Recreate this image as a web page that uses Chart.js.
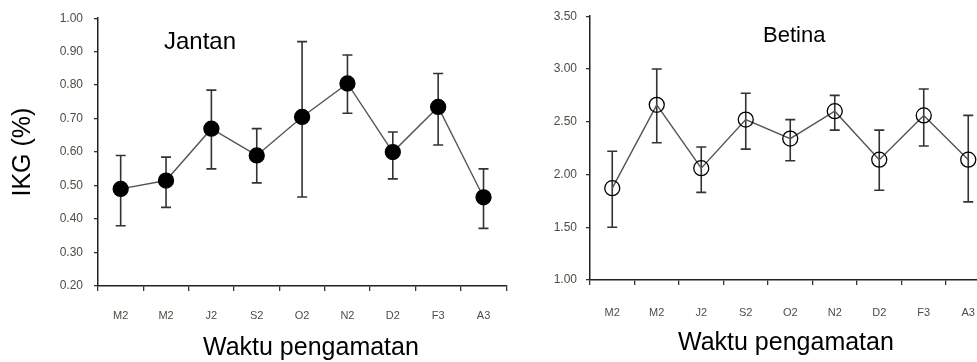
<!DOCTYPE html>
<html>
<head>
<meta charset="utf-8">
<script src="https://cdn.jsdelivr.net/npm/chart.js@4"></script>
<style>
  html, body { margin: 0; padding: 0; background: #fff; overflow: hidden; }
  #wrap { position: relative; width: 977px; height: 362px; overflow: hidden; }
  #left { position: absolute; left: 0; top: 0; }
  #right { position: absolute; left: 500px; top: 0; }
</style>
</head>
<body>
<div id="wrap">
  <div id="left" style="width:515px;height:362px"><canvas id="cLeft"></canvas></div>
  <div id="right" style="width:500px;height:362px"><canvas id="cRight"></canvas></div>
</div>
<script>
// observation months
let labels = ["M2", "M2", "J2", "S2", "O2", "N2", "D2", "F3", "A3"]

// Jantan (male) IKG values and error bar ends
let jantan = [0.49, 0.515, 0.67, 0.59, 0.705, 0.805, 0.60, 0.735, 0.465]
let jantanHigh = [0.59, 0.585, 0.785, 0.67, 0.93, 0.89, 0.66, 0.835, 0.55]
let jantanLow = [0.38, 0.435, 0.55, 0.508, 0.466, 0.716, 0.52, 0.621, 0.372]

// Betina (female) IKG values and error bar ends
let betina = [1.87, 2.66, 2.06, 2.52, 2.34, 2.60, 2.14, 2.56, 2.14]
let betinaHigh = [2.22, 3.00, 2.26, 2.77, 2.52, 2.75, 2.42, 2.81, 2.56]
let betinaLow = [1.50, 2.30, 1.83, 2.24, 2.13, 2.42, 1.85, 2.27, 1.74]

const FONT = "'Liberation Sans', Arial, sans-serif"
const tickColor = "#4d4d44"

// draws vertical error bars with caps using the chart's own scales
const errorBars = {
  id: "errorBars",
  beforeDatasetsDraw(chart, args, opts) {
    let ctx = chart.ctx
    let x = chart.scales.x
    let y = chart.scales.y
    ctx.save()
    ctx.strokeStyle = "#333"
    ctx.lineWidth = 1.6
    opts.high.forEach((h, i) => {
      let px = x.getPixelForValue(i)
      let top = y.getPixelForValue(h)
      let bot = y.getPixelForValue(opts.low[i])
      ctx.beginPath()
      ctx.moveTo(px, top); ctx.lineTo(px, bot)
      ctx.moveTo(px - 5, top); ctx.lineTo(px + 5, top)
      ctx.moveTo(px - 5, bot); ctx.lineTo(px + 5, bot)
      ctx.stroke()
    })
    ctx.restore()
  }
}

// free text: panel title and x axis title
const panelText = {
  id: "panelText",
  afterDraw(chart, args, opts) {
    let ctx = chart.ctx
    ctx.save()
    ctx.fillStyle = "#000"
    ctx.textAlign = "left"
    ctx.textBaseline = "alphabetic"
    opts.items.forEach(t => {
      ctx.font = t.size + "px " + FONT
      ctx.fillText(t.text, t.x, t.y)
    })
    ctx.restore()
  }
}

function makeChart(id, cfg) {
  let ctx = document.getElementById(id).getContext("2d")
  return new Chart(ctx, {
    type: "line",
    data: {
      labels,
      datasets: [{
        data: cfg.data,
        borderColor: "#555",
        borderWidth: 1.4,
        pointRadius: cfg.radius,
        pointBorderWidth: 1.3,
        pointBorderColor: "#000",
        pointBackgroundColor: cfg.fill,
        tension: 0
      }]
    },
    options: {
      responsive: true,
      maintainAspectRatio: false,
      animation: false,
      events: [],
      layout: { padding: cfg.padding },
      plugins: {
        legend: { display: false },
        tooltip: { enabled: false },
        errorBars: { high: cfg.high, low: cfg.low },
        panelText: { items: cfg.texts }
      },
      scales: {
        x: {
          offset: true,
          afterFit: s => { s.height = cfg.xHeight },
          grid: { display: true, drawOnChartArea: false, offset: true, tickLength: 5, color: "#333", lineWidth: 1.3 },
          border: { color: "#222", width: 1.5 },
          ticks: { color: tickColor, font: { family: FONT, size: 11 }, padding: cfg.xPad, maxRotation: 0 }
        },
        y: {
          min: cfg.min, max: cfg.max,
          afterFit: s => { s.width = cfg.yWidth },
          grid: { display: true, drawOnChartArea: false, tickLength: 4, color: "#333", lineWidth: 1.3 },
          border: { color: "#222", width: 1.5 },
          ticks: {
            stepSize: cfg.step,
            color: tickColor,
            font: { family: FONT, size: 12 },
            padding: cfg.tickPad,
            callback: v => Number(v).toFixed(2)
          },
          title: {
            display: cfg.yTitle !== "",
            text: cfg.yTitle,
            color: "#000",
            font: { family: FONT, size: 25 },
            padding: { top: 8, bottom: 0 }
          }
        }
      }
    },
    plugins: [errorBars, panelText]
  })
}

makeChart("cLeft", {
  data: jantan, high: jantanHigh, low: jantanLow,
  fill: "#000", radius: 7.5,
  min: 0.2, max: 1.0, step: 0.1,
  padding: { left: 0, right: 7, top: 16, bottom: 0 },
  xHeight: 76, yWidth: 98, tickPad: 11, xPad: 18,
  yTitle: "IKG (%)",
  texts: [
    { text: "Jantan", x: 164, y: 49, size: 24 },
    { text: "Waktu pengamatan", x: 203, y: 355, size: 25 }
  ]
})

makeChart("cRight", {
  data: betina, high: betinaHigh, low: betinaLow,
  fill: "rgba(0,0,0,0)", radius: 7.5,
  min: 1.0, max: 3.5, step: 0.5,
  padding: { left: 0, right: 9.5, top: 14, bottom: 0 },
  xHeight: 82, yWidth: 90, tickPad: 9, xPad: 21,
  yTitle: "",
  texts: [
    { text: "Betina", x: 263, y: 42, size: 22 },
    { text: "Waktu pengamatan", x: 178, y: 350, size: 25 }
  ]
})
</script>
</body>
</html>
